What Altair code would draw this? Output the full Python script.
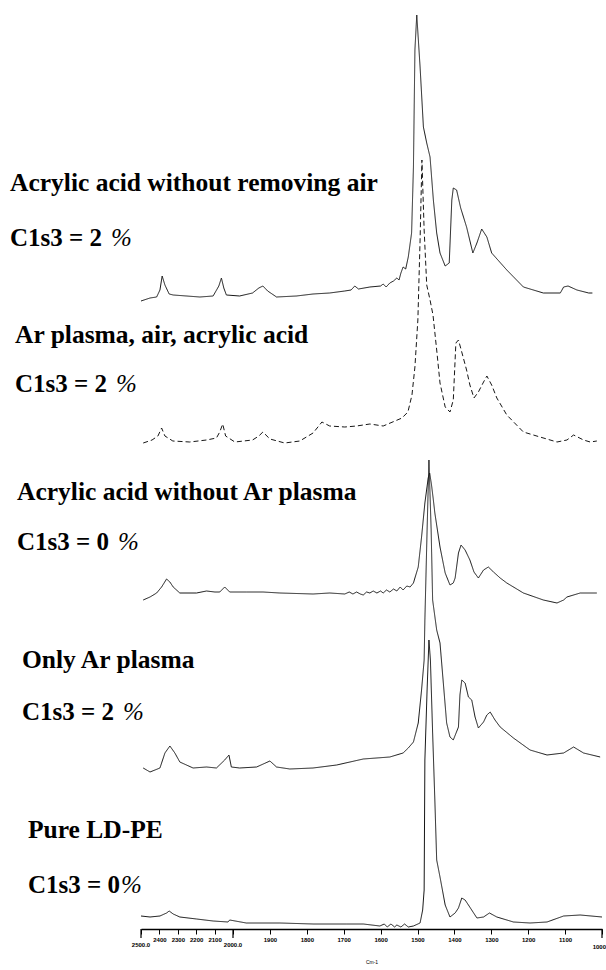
import altair as alt
import pandas as pd

# ---------------- data ----------------
SPECTRA = [
    "Acrylic acid without removing air",
    "Ar plasma, air, acrylic acid",
    "Acrylic acid without Ar plasma",
    "Only Ar plasma",
    "Pure LD-PE",
]
C1S3_TEXT = ["C1s3 = 2", "C1s3 = 2", "C1s3 = 0", "C1s3 = 2", "C1s3 = 0"]
# vertical stacking offset of each trace (arbitrary units)
OFFSETS = [634, 489, 336, 162, 12]

S1_WN = [2500, 2451, 2415, 2397, 2385, 2370, 2347, 2325, 2180, 2108,
         2077, 2063, 2050, 2036, 1982, 1947, 1930, 1919, 1906, 1882,
         1828, 1783, 1738,
         1697, 1680, 1670, 1660, 1629, 1600, 1593, 1585, 1575, 1565,
         1556, 1550, 1545, 1539, 1532, 1525,
         1516, 1511, 1507, 1502, 1493, 1484, 1475, 1466, 1457,
         1448, 1439, 1425, 1414, 1407, 1403, 1394, 1383, 1367, 1350,
         1339, 1326, 1312, 1299, 1258, 1213, 1159, 1113, 1104, 1092,
         1068, 1036, 1026]
S1_I = [-6, -3, -2, 5, 19, 10, 1, 0, -2, -1,
        9, 17, 7, 0, -1, 2, 7, 9, 4, -2,
        -1, 1, 2,
        4, 5, 9, 6, 8, 9, 11, 8, 12, 14,
        17, 15, 22, 28, 26, 38,
        62, 128, 245, 280, 228, 168, 152, 138, 95,
        62, 42, 29, 32, 95, 107, 105, 87, 68, 42,
        52, 66, 58, 42, 25, 8, 2, 2, 8, 9,
        5, 2, 2]

S2_WN = [2488, 2440, 2408, 2388, 2370, 2327, 2235, 2144, 2090, 2072,
         2056, 2040, 1995, 1947, 1930, 1919, 1900, 1860, 1819, 1783,
         1759, 1738, 1697, 1665, 1629, 1593, 1561, 1542, 1526, 1515,
         1507, 1499, 1493, 1488, 1482, 1475, 1466, 1458, 1448, 1439,
         1425, 1412, 1403, 1396, 1389, 1383, 1367, 1358, 1347, 1335,
         1321, 1312, 1299, 1285, 1258, 1213, 1168, 1122, 1095, 1077,
         1050, 1032, 1014]
S2_I = [-3, 0, 4, 12, 4, -1, -2, 0, 2, 8,
        16, 4, -2, 0, 4, 8, 1, -3, -1, 7,
        18, 14, 13, 14, 16, 14, 19, 22, 28, 45,
        73, 120, 200, 280, 210, 155, 140, 125, 90, 57,
        33, 28, 40, 97, 100, 92, 70, 55, 42, 48,
        58, 64, 55, 42, 25, 8, 3, -2, 0, 5,
        0, -2, -1]

S3_WN = [2488, 2451, 2415, 2388, 2361, 2343, 2325, 2289, 2198, 2144,
         2099, 2072, 2045, 2018, 1964, 1919, 1873, 1783, 1738,
         1697, 1685, 1675, 1665, 1655, 1647, 1638, 1629, 1620, 1610,
         1600, 1593, 1584, 1575, 1565, 1556, 1547, 1539, 1529, 1520, 1511,
         1507, 1498, 1489, 1480, 1471, 1467, 1462, 1457, 1453, 1439, 1425,
         1412, 1403, 1398, 1389, 1382, 1371, 1358, 1347, 1335, 1321,
         1308, 1294, 1276, 1258, 1213, 1159, 1122, 1104, 1095, 1059,
         1014]
S3_I = [-7, -4, 0, 6, 14, 11, 6, 0, 0, 2,
        1, 1, 6, 1, 1, 1, 0, -1, 0,
        -1, 1, -1, 1, -1, -2, 1, 0, 2, 0,
        2, 0, 3, 1, 4, 2, 6, 3, 7, 6, 10,
        15, 26, 56, 90, 115, 120, 108, 93, 80, 46, 20,
        8, 10, 15, 40, 48, 43, 33, 21, 15, 23,
        26, 21, 15, 10, 0, -7, -10, -7, -4, 0,
        0]

S4_WN = [2488, 2451, 2397, 2370, 2343, 2316, 2289, 2217, 2144, 2090,
         2045, 2022, 2009, 1982, 1936, 1900, 1882, 1846, 1783, 1719,
         1647, 1575, 1539, 1525, 1511, 1498, 1489, 1482, 1480, 1474,
         1469, 1463, 1459, 1448, 1439, 1430, 1421, 1412, 1403, 1389,
         1385, 1380, 1371, 1362, 1353, 1344, 1335, 1321, 1312, 1303,
         1290, 1276, 1240, 1195, 1149, 1104, 1077, 1050, 1005]
S4_I = [-1, -5, -1, 14, 21, 14, 5, -1, 0, -1,
        7, 12, 0, -1, 0, 6, 0, -2, -1, 2,
        8, 10, 14, 19, 25, 44, 77, 107, 147, 237,
        307, 237, 167, 137, 124, 84, 44, 30, 27, 40,
        72, 87, 84, 70, 67, 50, 39, 45, 52, 55,
        47, 40, 29, 17, 12, 14, 20, 14, 10]

S5_WN = [2500, 2451, 2397, 2361, 2347, 2325, 2289, 2198, 2108, 2027,
         2018, 1964, 1873, 1783, 1692, 1647,
         1602, 1590, 1582, 1572, 1562, 1556, 1545, 1535, 1525, 1511,
         1493, 1486, 1482, 1480, 1474, 1469, 1465, 1459, 1453, 1448, 1439,
         1425, 1412, 1398, 1389, 1380, 1371, 1362, 1339, 1321, 1305,
         1285, 1240, 1195, 1149, 1104, 1059, 1000]
S5_I = [1, 0, 1, 4, 6, 3, 0, -2, -4, -5,
        -3, -6, -6, -7, -7, -7,
        -9, -7, -10, -7, -10, -8, -10, -7, -10, -9,
        -6, 7, 27, 157, 227, 277, 257, 184, 117, 57, 40,
        12, 0, 4, 9, 19, 17, 12, -1, 0, 4,
        0, -5, -6, -5, 1, 2, 0]

TICKS = [2500, 2400, 2300, 2200, 2100, 2000, 1900, 1800, 1700, 1600,
         1500, 1400, 1300, 1200, 1100, 1000]
MAJOR_TICKS = [2500, 2000, 1000]
MAJOR_LABELS = ["2500.0", "2000.0", "1000"]

# ---------------- tables ----------------
rows = []
for name, off, wn, sig in zip(SPECTRA, OFFSETS,
                              [S1_WN, S2_WN, S3_WN, S4_WN, S5_WN],
                              [S1_I, S2_I, S3_I, S4_I, S5_I]):
    assert len(wn) == len(sig), name
    for w, s in zip(wn, sig):
        rows.append({"spectrum": name, "wavenumber": w, "signal": off + s})
df = pd.DataFrame(rows)
major_df = pd.DataFrame({"wavenumber": MAJOR_TICKS, "label": MAJOR_LABELS})

# ---------------- layout ----------------
W, H = 461, 929
PAD_L = 141

# wavenumber axis is compressed above 2000 cm-1 (piecewise linear)
xscale = alt.Scale(domain=[2500, 2000, 1000], range=[0, 92, W], nice=False, zero=False)
yscale = alt.Scale(domain=[0, H], nice=False, zero=False)

major_expr = "(datum.value == 2500 || datum.value == 2000 || datum.value == 1000) ? '' : datum.label"
x_axis = alt.Axis(values=TICKS, format="d", labelExpr=major_expr,
                  tickSize=5, tickColor="black", tickWidth=1,
                  domainColor="black", domainWidth=1.6,
                  labelFont="Liberation Sans", labelFontSize=6,
                  labelFontWeight="bold", labelColor="black",
                  labelPadding=2, labelOverlap=False, labelFlush=False,
                  grid=False, title="Cm-1", titleFont="Liberation Sans",
                  titleFontSize=5, titleFontWeight="normal",
                  titleColor="black", titlePadding=17)

def xenc(field="wavenumber:Q"):
    return alt.X(field, scale=xscale, axis=x_axis)

lines = alt.Chart(df).mark_line(strokeWidth=1, color="#161616").encode(
    x=xenc(),
    y=alt.Y("signal:Q", scale=yscale, axis=None),
    detail="spectrum:N",
    strokeDash=alt.StrokeDash("spectrum:N",
                              scale=alt.Scale(domain=SPECTRA,
                                              range=[[1, 0], [5, 3], [1, 0], [1, 0], [1, 0]]),
                              legend=None),
)

major_ticks = alt.Chart(major_df).mark_rule(color="black", strokeWidth=1.2).encode(
    x=xenc(),
    y=alt.value(H),
    y2=alt.value(H + 9),
)

major_text_a = alt.Chart(major_df).transform_filter("datum.wavenumber != 1000").mark_text(
    font="Liberation Sans", fontSize=6, fontWeight="bold", color="black",
    align="center", baseline="middle").encode(
    x=xenc(),
    y=alt.value(H + 16),
    text="label:N",
)
major_text_b = alt.Chart(major_df).transform_filter("datum.wavenumber == 1000").mark_text(
    font="Liberation Sans", fontSize=6, fontWeight="bold", color="black",
    align="right", baseline="middle", dx=4).encode(
    x=xenc(),
    y=alt.value(H + 18),
    text="label:N",
)

# annotation placements (page pixels): title line and C1s3 line for each trace
TITLE_POS = [(10, 191), (15, 343), (17, 500), (22, 668), (28, 838)]
C1S3_POS = [(10, 246), (15, 392), (17, 550), (22, 720), (28, 893)]
PCT_DX = [101, 101, 101, 101, 93]

blank = alt.Data(values=[{}])
layers = [lines, major_ticks, major_text_a, major_text_b]
for i in range(5):
    tx, ty = TITLE_POS[i]
    layers.append(alt.Chart(blank).mark_text(
        font="Liberation Serif", fontSize=25.5, fontWeight="bold", color="black",
        align="left", baseline="alphabetic").encode(
        x=alt.value(tx - PAD_L), y=alt.value(ty), text=alt.value(SPECTRA[i])))
    cx, cy = C1S3_POS[i]
    layers.append(alt.Chart(blank).mark_text(
        font="Liberation Serif", fontSize=25, fontWeight="bold", color="black",
        align="left", baseline="alphabetic").encode(
        x=alt.value(cx - PAD_L), y=alt.value(cy), text=alt.value(C1S3_TEXT[i])))
    layers.append(alt.Chart(blank).mark_text(
        font="Liberation Serif", fontSize=25, fontStyle="italic", color="black",
        align="left", baseline="alphabetic").encode(
        x=alt.value(cx - PAD_L + PCT_DX[i]), y=alt.value(cy), text=alt.value("%")))

chart = alt.layer(*layers).properties(
    width=W, height=H,
    autosize=alt.AutoSizeParams(type="none"),
    padding={"left": PAD_L, "top": 0, "right": 4, "bottom": 41},
    background="white",
).configure_view(stroke=None)

chart.save("out.html", embed_options={"renderer": "svg", "actions": False})
